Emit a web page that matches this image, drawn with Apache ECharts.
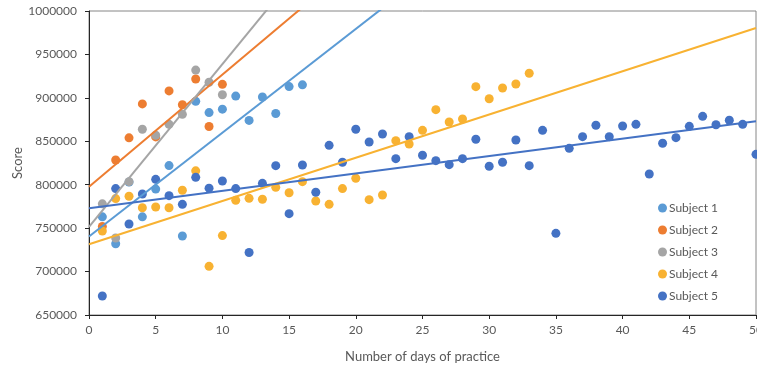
<!DOCTYPE html>
<html>
<head>
<meta charset="utf-8">
<script src="https://cdn.jsdelivr.net/npm/echarts@6/dist/echarts.min.js"></script>
<style>
  html, body { margin: 0; padding: 0; background: #fff; }
  #chart { width: 757px; height: 369px; }
</style>
</head>
<body>
<div id="chart"></div>
<script>
const SUBJECTS = ["Subject 1", "Subject 2", "Subject 3", "Subject 4", "Subject 5"];
const COLORS = ["#5b9bd5", "#ed7d31", "#a5a5a5", "#f8b232", "#4472c4"];

const DAYS_1 = [1, 2, 3, 4, 5, 6, 7, 8, 9, 10, 11, 12, 13, 14, 15, 16];
const SCORES_1 = [763000, 732000, 803000, 763000, 795000, 822000, 741000, 896000,
  883000, 887000, 902000, 874000, 901000, 882000, 913000, 915000];

const DAYS_2 = [1, 2, 3, 4, 5, 6, 7, 8, 9, 10];
const SCORES_2 = [752000, 828500, 854000, 893000, 855000, 908000, 892000, 921700, 867000, 915600];

const DAYS_3 = [1, 2, 3, 4, 5, 6, 7, 8, 9, 10];
const SCORES_3 = [778000, 738700, 803500, 863800, 857000, 869500, 881000, 932000, 918000, 903600];

const DAYS_4 = [1, 2, 3, 4, 5, 6, 7, 8, 9, 10, 11, 12, 13, 14, 15, 16, 17,
  18, 19, 20, 21, 22, 23, 24, 25, 26, 27, 28, 29, 30, 31, 32, 33];
const SCORES_4 = [746700, 784000, 786700, 773500, 774300, 773500, 793600, 816000,
  706000, 741400, 782000, 784300, 783200, 797000, 790800, 803500, 781300,
  777400, 795500, 807500, 782800, 788200, 850700, 846900, 862600, 886400,
  872200, 875700, 912900, 899000, 911400, 916000, 928300];

const DAYS_5 = [1, 2, 3, 4, 5, 6, 7, 8, 9, 10, 11, 12, 13, 14, 15, 16, 17,
  18, 19, 20, 21, 22, 23, 24, 25, 26, 27, 28, 29, 30, 31, 32, 33, 34, 35,
  36, 37, 38, 39, 40, 41, 42, 43, 44, 45, 46, 47, 48, 49, 50];
const SCORES_5 = [671900, 795500, 754800, 789300, 806200, 787400, 777400, 808500,
  796000, 804300, 795500, 722000, 801600, 821900, 766700, 822700, 791300,
  845300, 825800, 863800, 849200, 858400, 830000, 855300, 833900, 827700,
  823100, 830000, 852300, 821200, 825800, 851500, 821900, 862600, 744000,
  841900, 855300, 868400, 855300, 867600, 869500, 812300, 847700, 854200,
  867200, 878700, 869100, 874200, 869500, 835000];

const DAYS = [DAYS_1, DAYS_2, DAYS_3, DAYS_4, DAYS_5];
const SCORES = [SCORES_1, SCORES_2, SCORES_3, SCORES_4, SCORES_5];

const X_MIN = 0, X_MAX = 50;

// 最小二乗の直線 (Excel の線形近似と同じ)
function fit(xs, ys) {
  const n = xs.length;
  const mx = xs.reduce((a, b) => a + b, 0) / n;
  const my = ys.reduce((a, b) => a + b, 0) / n;
  let sxy = 0, sxx = 0;
  for (let i = 0; i < n; i++) {
    sxy += (xs[i] - mx) * (ys[i] - my);
    sxx += (xs[i] - mx) * (xs[i] - mx);
  }
  const slope = sxy / sxx;
  return { slope, intercept: my - slope * mx };
}

const FONT = "Lato";
const TEXT = "#595959";

const series = [];
SUBJECTS.forEach((name, i) => {
  const { slope, intercept } = fit(DAYS[i], SCORES[i]);
  series.push({
    name: name + " trend",
    type: "line",
    data: [[X_MIN, intercept + slope * X_MIN], [X_MAX, intercept + slope * X_MAX]],
    symbol: "none",
    clip: true,
    silent: true,
    lineStyle: { color: COLORS[i], width: 2 },
    z: 3,
  });
});
SUBJECTS.forEach((name, i) => {
  series.push({
    name,
    type: "scatter",
    data: DAYS[i].map((d, j) => [d, SCORES[i][j]]),
    symbol: "circle",
    symbolSize: 9,
    itemStyle: { color: COLORS[i], opacity: 1 },
    z: 2,
  });
});

const chart = echarts.init(document.getElementById("chart"), null, { renderer: "canvas" });
chart.setOption({
  animation: false,
  backgroundColor: "#fff",
  textStyle: { fontFamily: FONT, color: TEXT },
  grid: {
    left: 89, right: 1, top: 11, bottom: 54,
    containLabel: false,
    outerBoundsMode: "none",
    show: true, borderColor: "#868686", borderWidth: 1,
  },
  legend: {
    data: SUBJECTS,
    orient: "vertical",
    left: 653,
    top: 197,
    icon: "circle",
    itemWidth: 9,
    itemHeight: 9,
    itemGap: 10,
    textStyle: { fontFamily: FONT, fontSize: 12, color: TEXT, padding: [0, 0, 0, -3] },
  },
  xAxis: {
    type: "value",
    min: X_MIN,
    max: X_MAX,
    interval: 5,
    name: "Number of days of practice",
    nameLocation: "middle",
    nameGap: 35,
    nameMoveOverlap: false,
    nameTextStyle: { fontFamily: FONT, fontSize: 13, color: TEXT },
    axisLine: { lineStyle: { color: "#262626", width: 1 } },
    axisTick: { show: true, length: 4, lineStyle: { color: "#262626" } },
    axisLabel: { fontFamily: FONT, fontSize: 12, color: TEXT, margin: 9 },
    splitLine: { show: false },
  },
  yAxis: {
    type: "value",
    min: 650000,
    max: 1000000,
    interval: 50000,
    name: "Score",
    nameLocation: "middle",
    nameGap: 65,
    nameMoveOverlap: false,
    nameTextStyle: { fontFamily: FONT, fontSize: 13, color: TEXT },
    axisLine: { show: true, lineStyle: { color: "#262626", width: 1 } },
    axisTick: { show: true, length: 4, lineStyle: { color: "#262626" } },
    axisLabel: {
      fontFamily: FONT, fontSize: 12, color: TEXT, margin: 12,
      formatter: (v) => String(v),
    },
    splitLine: { show: false },
  },
  series,
});
</script>
</body>
</html>
